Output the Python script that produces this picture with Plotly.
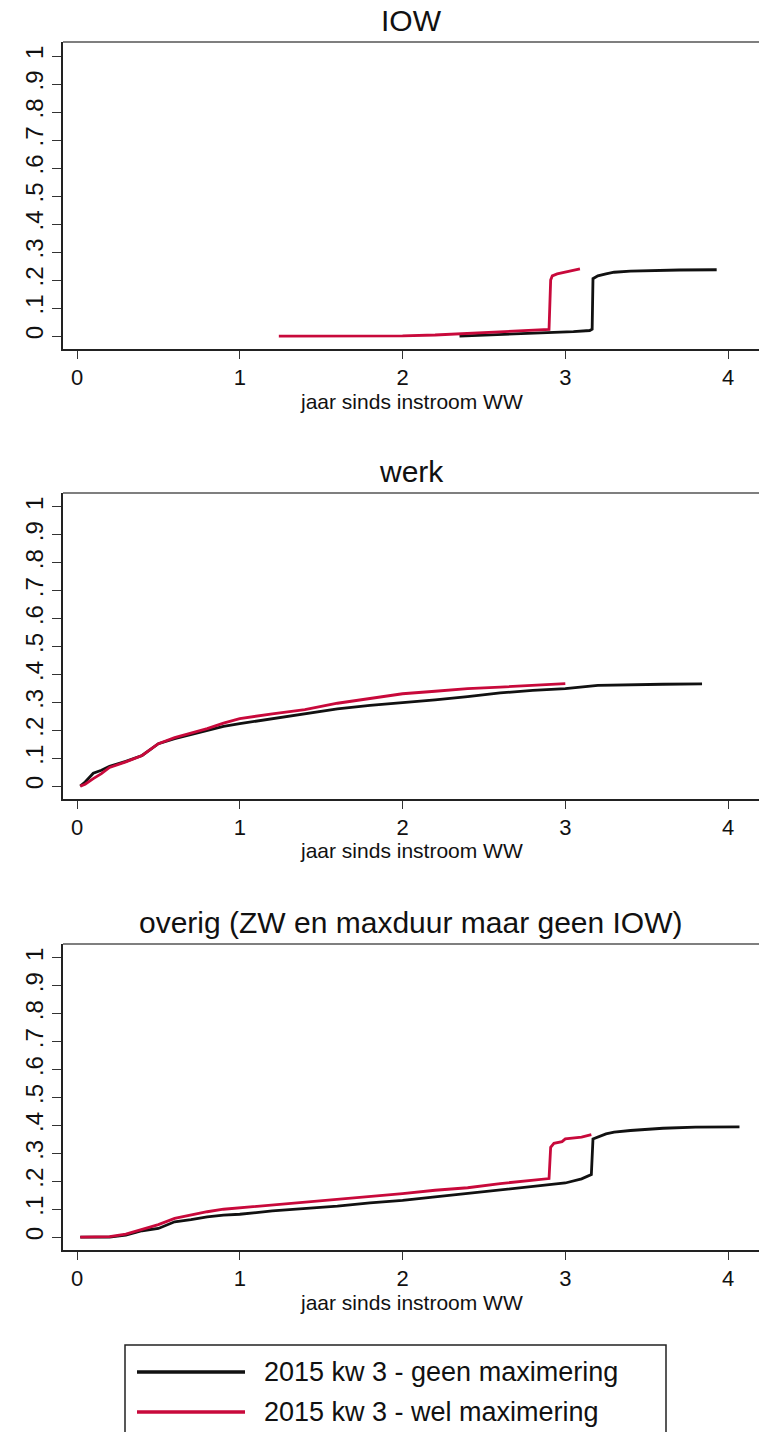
import plotly.graph_objects as go

# --- data (cumulative share, by years since WW inflow) ---
series_names = ["2015 kw 3 - geen maximering", "2015 kw 3 - wel maximering"]
panel_titles = ["IOW", "werk", "overig (ZW en maxduur maar geen IOW)"]

iow_geen_x = [2.35, 2.5, 2.7, 2.9, 3.05, 3.15, 3.165, 3.17, 3.2, 3.25, 3.3, 3.4, 3.5, 3.7, 3.93]
iow_geen_y = [0.0, 0.003, 0.007, 0.012, 0.016, 0.02, 0.025, 0.205, 0.215, 0.222, 0.228, 0.232, 0.234, 0.236, 0.237]
iow_wel_x = [1.24, 1.6, 2.0, 2.2, 2.4, 2.6, 2.8, 2.9, 2.91, 2.92, 2.95, 3.0, 3.05, 3.09]
iow_wel_y = [0.0, 0.0, 0.001, 0.004, 0.009, 0.014, 0.02, 0.024, 0.2, 0.215, 0.222, 0.228, 0.235, 0.24]

werk_geen_x = [0.02, 0.05, 0.1, 0.15, 0.2, 0.3, 0.4, 0.5, 0.6, 0.7, 0.8, 0.9, 1.0, 1.2, 1.4,
               1.6, 1.8, 2.0, 2.2, 2.4, 2.6, 2.8, 3.0, 3.2, 3.4, 3.6, 3.84]
werk_geen_y = [0.0, 0.015, 0.046, 0.057, 0.071, 0.089, 0.11, 0.152, 0.17, 0.185, 0.2, 0.214, 0.224,
               0.241, 0.259, 0.277, 0.289, 0.298, 0.309, 0.321, 0.334, 0.343, 0.349, 0.361, 0.364,
               0.365, 0.366]
werk_wel_x = [0.02, 0.05, 0.1, 0.15, 0.2, 0.3, 0.4, 0.5, 0.6, 0.7, 0.8, 0.9, 1.0, 1.2, 1.4,
              1.6, 1.8, 2.0, 2.2, 2.4, 2.6, 2.8, 3.0]
werk_wel_y = [0.0, 0.007, 0.027, 0.045, 0.067, 0.087, 0.11, 0.152, 0.174, 0.19, 0.206, 0.226, 0.242,
              0.259, 0.274, 0.297, 0.313, 0.331, 0.34, 0.349, 0.355, 0.361, 0.367]

overig_geen_x = [0.02, 0.2, 0.3, 0.4, 0.5, 0.6, 0.7, 0.8, 0.9, 1.0, 1.2, 1.4, 1.6, 1.8, 2.0, 2.2,
                 2.4, 2.6, 2.8, 3.0, 3.1, 3.16, 3.17, 3.2, 3.25, 3.3, 3.4, 3.6, 3.8, 4.07]
overig_geen_y = [0.0, 0.0, 0.007, 0.023, 0.031, 0.055, 0.063, 0.073, 0.079, 0.082, 0.094, 0.103,
                 0.111, 0.123, 0.132, 0.144, 0.156, 0.17, 0.182, 0.194, 0.209, 0.224, 0.352, 0.358,
                 0.37, 0.376, 0.382, 0.39, 0.394, 0.395]
overig_wel_x = [0.02, 0.2, 0.3, 0.4, 0.5, 0.6, 0.7, 0.8, 0.9, 1.0, 1.2, 1.4, 1.6, 1.8, 2.0, 2.2,
                2.4, 2.6, 2.8, 2.9, 2.91, 2.93, 2.98, 3.0, 3.1, 3.16]
overig_wel_y = [0.0, 0.002, 0.011, 0.027, 0.045, 0.067, 0.079, 0.091, 0.1, 0.105, 0.115, 0.124,
                0.136, 0.144, 0.156, 0.168, 0.177, 0.192, 0.204, 0.21, 0.322, 0.336, 0.342, 0.352,
                0.358, 0.367]

y_ticks = [0, 0.1, 0.2, 0.3, 0.4, 0.5, 0.6, 0.7, 0.8, 0.9, 1]
y_tick_labels = ["0", ".1", ".2", ".3", ".4", ".5", ".6", ".7", ".8", ".9", "1"]
x_ticks = [0, 1, 2, 3, 4]
x_title = "jaar sinds instroom WW"

COLORS = ["#111111", "#c8093b"]
FONT = "Liberation Sans, Arial, sans-serif"
W, H = 759, 1432

panels = [
    (iow_geen_x, iow_geen_y, iow_wel_x, iow_wel_y),
    (werk_geen_x, werk_geen_y, werk_wel_x, werk_wel_y),
    (overig_geen_x, overig_geen_y, overig_wel_x, overig_wel_y),
]
# plot boxes in pixels (top, bottom)
boxes = [(42, 349), (493, 799), (944, 1250)]
x_left = 63

fig = go.Figure()
layout = {}
annotations = []
for i, (gx, gy, wx, wy) in enumerate(panels):
    n = "" if i == 0 else str(i + 1)
    top, bot = boxes[i]
    for j, (xs, ys) in enumerate([(gx, gy), (wx, wy)]):
        fig.add_trace(go.Scatter(
            x=xs, y=ys, mode="lines", name=series_names[j], showlegend=False,
            line=dict(color=COLORS[j], width=2.8),
            xaxis="x" + n, yaxis="y" + n,
        ))
    layout["xaxis" + n] = dict(
        domain=[x_left / W, 1], anchor="y" + n,
        range=[-0.086, 4.19], tickvals=x_ticks, ticks="outside", ticklen=8,
        tickcolor="#333", showline=True, linecolor="#222", linewidth=1.5,
        mirror=False, showgrid=False, zeroline=False,
        tickfont=dict(size=22, color="#111"), ticklabelstandoff=0,
    )
    layout["yaxis" + n] = dict(
        domain=[1 - bot / H, 1 - top / H], anchor="x" + n,
        range=[-0.046, 1.05], tickvals=y_ticks, ticktext=y_tick_labels,
        tickangle=-90, ticks="outside", ticklen=9, tickcolor="#333",
        showline=True, linecolor="#222", linewidth=1.5, showgrid=False, zeroline=False,
        tickfont=dict(size=24, color="#111"),
    )
    # top border of the plot box
    fig.add_shape(type="line", xref="paper", yref="paper",
                  x0=x_left / W, x1=1, y0=1 - top / H, y1=1 - top / H,
                  line=dict(color="#555", width=1.5))
    annotations.append(dict(
        text=panel_titles[i], xref="paper", yref="paper",
        x=(x_left + W) / 2 / W, y=1 - (top - 3) / H, xanchor="center", yanchor="bottom",
        showarrow=False, font=dict(size=30, color="#111"),
    ))
    # x axis title, placed tight under the tick labels as in the original
    annotations.append(dict(
        text=x_title, xref="paper", yref="paper",
        x=(x_left + W) / 2 / W, y=1 - (bot + 52) / H, xanchor="center", yanchor="middle",
        showarrow=False, font=dict(size=21, color="#111"),
    ))

# legend box drawn by hand to match the long line samples
fig.add_shape(type="rect", xref="paper", yref="paper",
              x0=125 / W, x1=666 / W, y0=1 - 1460 / H, y1=1 - 1345 / H,
              line=dict(color="#222", width=1.5), fillcolor="white")
for j, ypix in enumerate([1372, 1412]):
    fig.add_shape(type="line", xref="paper", yref="paper",
                  x0=137 / W, x1=245 / W, y0=1 - ypix / H, y1=1 - ypix / H,
                  line=dict(color=COLORS[j], width=3.5))
    annotations.append(dict(
        text=series_names[j], xref="paper", yref="paper",
        x=262 / W, y=1 - ypix / H, xanchor="left", yanchor="middle",
        showarrow=False, font=dict(size=27, color="#111"),
    ))

fig.update_layout(
    width=W, height=H,
    margin=dict(l=0, r=0, t=0, b=0),
    paper_bgcolor="white", plot_bgcolor="white",
    font=dict(family=FONT, color="#111"),
    annotations=annotations,
    showlegend=False,
    **layout,
)

fig.write_html("out.html", config={"displayModeBar": False},
               post_script="document.body.style.margin='0';")
